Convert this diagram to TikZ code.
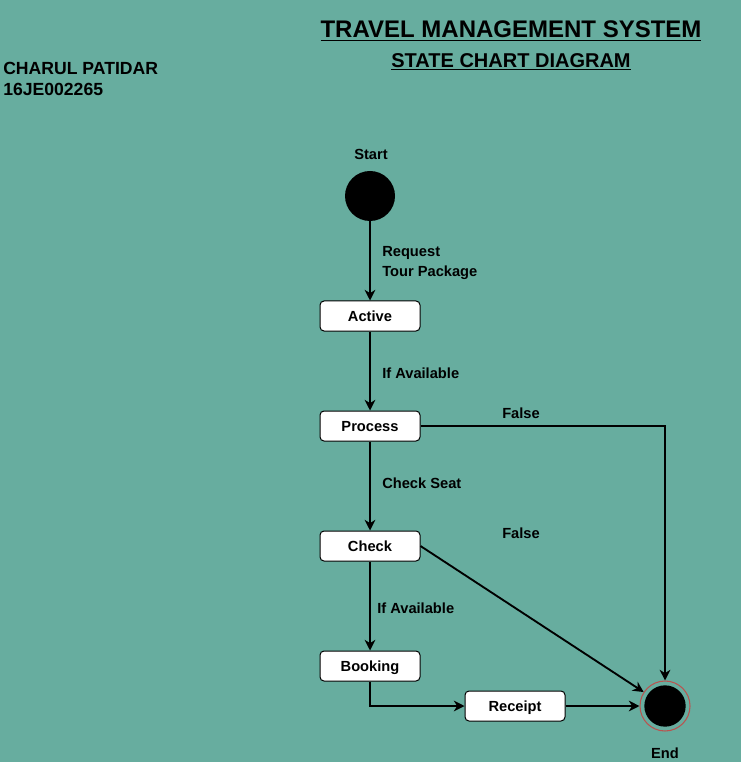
\documentclass[tikz,border=0pt]{standalone}
\usepackage{fontspec}
\setmainfont{Liberation Sans}
\usetikzlibrary{arrows.meta}
\definecolor{bgc}{RGB}{103,173,159}
\definecolor{ringred}{RGB}{184,84,80}
\tikzset{
  px/.style={x=0.75pt,y=-0.75pt},
  statebox/.style={draw=black,fill=white,rounded corners=3pt,line width=0.75pt,minimum width=75pt,minimum height=22.5pt,inner sep=0pt,text height=8pt,text depth=0pt,font=\fontsize{11}{13}\selectfont\bfseries},
  lbl/.style={font=\fontsize{11}{15}\selectfont\bfseries,inner sep=0pt},
  conn/.style={line width=1.4pt,-{Stealth[length=8pt,width=8pt,inset=2.5pt]}},
}
\begin{document}
\begin{tikzpicture}[px]
\fill[bgc] (0,0) rectangle (741,762);
\useasboundingbox (0,0) rectangle (741,762);
% titles
\node[font=\fontsize{18}{20}\selectfont\bfseries,inner sep=0pt] (title) at (511,31) {\underline{TRAVEL MANAGEMENT SYSTEM}};
\node[font=\fontsize{15}{17}\selectfont\bfseries,inner sep=0pt] (subtitle) at (511,62) {\underline{STATE CHART DIAGRAM}};
\node[font=\fontsize{13.2}{16}\selectfont\bfseries,inner sep=0pt,anchor=west,align=left] (author) at (3,79) {CHARUL PATIDAR\\16JE002265};
% states
\node[circle,fill=black,minimum size=37.5pt,inner sep=0pt] (start) at (370,196) {};
\node[lbl] (startlbl) at (371,154) {Start};
\node[statebox] (active) at (370,316) {Active};
\node[statebox] (process) at (370,426) {Process};
\node[statebox] (check) at (370,546) {Check};
\node[statebox] (booking) at (370,666) {Booking};
\node[statebox] (receipt) at (515,706) {Receipt};
\node[circle,draw=ringred,line width=0.8pt,minimum size=37.5pt,inner sep=0pt] (end) at (665,706) {};
\node[circle,fill=black,minimum size=31pt,inner sep=0pt] (endin) at (665,706) {};
\node[lbl] (endlbl) at (665,753) {End};
% connectors
\draw[conn] (start) -- (active);
\draw[conn] (active) -- (process);
\draw[conn] (process) -- (check);
\draw[conn] (check) -- (booking);
\draw[conn] (process.east) -| (end.north);
\draw[conn] (check.east) -- (end);
\draw[conn] (booking.south) |- (receipt.west);
\draw[conn] (receipt.east) -- (end.west);
% labels
\node[lbl,anchor=west,align=left] (l1) at (382,263) {Request\\Tour Package};
\node[lbl,anchor=west] (l2) at (382,373) {If Available};
\node[lbl] (l3) at (521,413) {False};
\node[lbl,anchor=west] (l4) at (382,483) {Check Seat};
\node[lbl] (l5) at (521,533) {False};
\node[lbl,anchor=west] (l6) at (377,608) {If Available};
\end{tikzpicture}
\end{document}
